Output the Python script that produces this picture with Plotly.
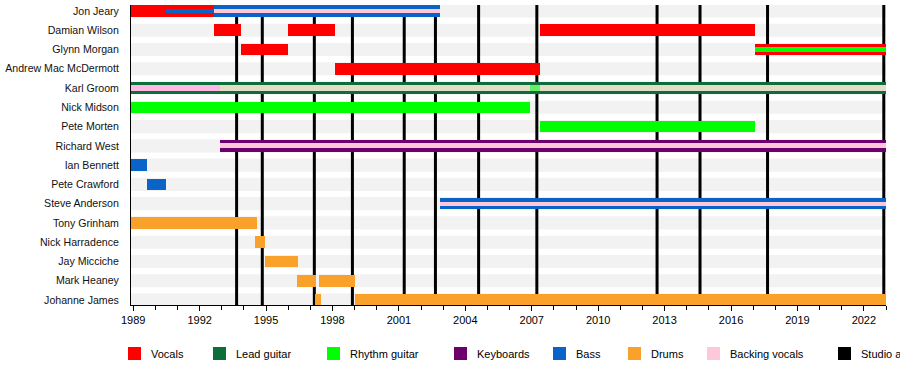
import plotly.graph_objects as go

# ---------------- data ----------------
members = ["Jon Jeary", "Damian Wilson", "Glynn Morgan", "Andrew Mac McDermott",
           "Karl Groom", "Nick Midson", "Pete Morten", "Richard West", "Ian Bennett",
           "Pete Crawford", "Steve Anderson", "Tony Grinham", "Nick Harradence",
           "Jay Micciche", "Mark Heaney", "Johanne James"]

timeline_start = 1988.9
timeline_end = 2023.0

vocals = [("Jon Jeary", 1988.9, 1992.65),
          ("Damian Wilson", 1992.65, 1993.85),
          ("Damian Wilson", 1996.0, 1998.12),
          ("Damian Wilson", 2007.38, 2017.1),
          ("Glynn Morgan", 1993.85, 1996.0),
          ("Glynn Morgan", 2017.1, 2023.0),
          ("Andrew Mac McDermott", 1998.12, 2007.38)]

lead_guitar = [("Karl Groom", 1988.9, 2023.0)]

rhythm_guitar = [("Nick Midson", 1988.9, 2006.9),
                 ("Pete Morten", 2007.38, 2017.1)]

keyboards = [("Richard West", 1992.93, 2023.0)]

bass = [("Jon Jeary", 1992.65, 2002.86),
        ("Ian Bennett", 1988.9, 1989.6),
        ("Pete Crawford", 1989.6, 1990.5),
        ("Steve Anderson", 2002.86, 2023.0)]

drums = [("Tony Grinham", 1988.9, 1994.58),
         ("Nick Harradence", 1994.5, 1994.95),
         ("Jay Micciche", 1994.95, 1996.43),
         ("Mark Heaney", 1996.38, 1997.26),
         ("Mark Heaney", 1997.4, 1999.0),
         ("Johanne James", 1997.2, 1997.5),
         ("Johanne James", 1999.0, 2023.0)]

# secondary roles (thin stripes)
bass_secondary = [("Jon Jeary", 1990.48, 1992.65)]
rhythm_secondary = [("Glynn Morgan", 2017.1, 2023.0),
                    ("Karl Groom", 2006.9, 2007.38)]
backing_vocals = [("Jon Jeary", 1992.65, 2002.86),
                  ("Karl Groom", 1988.9, 1992.93),
                  ("Richard West", 1992.93, 2023.0),
                  ("Steve Anderson", 2002.86, 2023.0)]
karl_stripe = [("Karl Groom", 1992.93, 2006.9),
               ("Karl Groom", 2007.38, 2023.0)]

studio_albums = [1993.67, 1994.83, 1997.18, 1998.9, 2001.24, 2002.65,
                 2004.6, 2007.23, 2012.66, 2014.6, 2017.65, 2022.9]

tick_years = list(range(1989, 2023, 3))
minor_years = list(range(1989, 2024))

legend_names = ["Vocals", "Lead guitar", "Rhythm guitar", "Keyboards", "Bass",
                "Drums", "Backing vocals", "Studio album"]

# ---------------- styles ----------------
C_VOC = "#FF0000"
C_LEAD = "#0B6E3B"
C_RHY = "#00FF00"
C_KEY = "#6E006E"
C_BASS = "#0A64C8"
C_DRUM = "#F9A12A"
C_BVOC = "#FFC8DA"
C_KARL_BV = "#FFB8E2"
C_KARL = "#E4DEC6"
C_ALB = "#000000"
legend_colors = [C_VOC, C_LEAD, C_RHY, C_KEY, C_BASS, C_DRUM, C_BVOC, C_ALB]
legend_px = [128, 213, 327, 454, 553, 628, 707, 838]

W, H = 900, 365
ML, MR, MT, MB = 131, 14, 5, 60
PW, PH = W - ML - MR, H - MT - MB
Y_RANGE = [15.26, -0.31]

idx = {m: i for i, m in enumerate(members)}
FONT = "Liberation Sans, Arial, sans-serif"

fig = go.Figure()


def add_bars(segs, color, width):
    fig.add_trace(go.Bar(
        orientation="h",
        y=[idx[m] for m, _, _ in segs],
        base=[s for _, s, _ in segs],
        x=[e - s for _, s, e in segs],
        width=width,
        marker=dict(color=color, line=dict(width=0)),
        showlegend=False, hoverinfo="skip"))


add_bars(vocals, C_VOC, 0.6)
add_bars(lead_guitar, C_LEAD, 0.64)
add_bars(rhythm_guitar, C_RHY, 0.6)
add_bars(keyboards, C_KEY, 0.6)
add_bars(bass, C_BASS, 0.6)
add_bars(drums, C_DRUM, 0.6)

add_bars(bass_secondary, C_BASS, 0.2)
add_bars([s for s in backing_vocals if s[0] == "Jon Jeary"], C_BVOC, 0.18)
add_bars([s for s in backing_vocals if s[0] == "Karl Groom"], C_KARL_BV, 0.32)
add_bars([s for s in backing_vocals if s[0] == "Richard West"], C_BVOC, 0.26)
add_bars([s for s in backing_vocals if s[0] == "Steve Anderson"], C_BVOC, 0.22)
add_bars(karl_stripe, C_KARL, 0.32)
add_bars([s for s in rhythm_secondary if s[0] == "Glynn Morgan"], C_RHY, 0.24)
add_bars([s for s in rhythm_secondary if s[0] == "Karl Groom"], "#66EE66", 0.32)

shapes = []
for i, m in enumerate(members):
    shapes.append(dict(type="rect", xref="x", yref="y",
                       x0=timeline_start, x1=timeline_end, y0=i - 0.34, y1=i + 0.34,
                       fillcolor="#F2F2F2", line=dict(width=0), layer="below"))
for yr in studio_albums:
    shapes.append(dict(type="line", xref="x", yref="y", x0=yr, x1=yr,
                       y0=Y_RANGE[0], y1=Y_RANGE[1],
                       line=dict(color=C_ALB, width=3), layer="below"))

annotations = []
for name, col, px in zip(legend_names, legend_colors, legend_px):
    x0 = (px - ML) / PW
    x1 = (px + 13 - ML) / PW
    shapes.append(dict(type="rect", xref="paper", yref="paper",
                       x0=x0, x1=x1, y0=(MT + PH - 360) / PH, y1=(MT + PH - 347) / PH,
                       fillcolor=col, line=dict(width=0)))
    annotations.append(dict(xref="paper", yref="paper", x=(px + 21 - ML) / PW,
                            y=(MT + PH - 353.5) / PH, text=name, showarrow=False,
                            xanchor="left", yanchor="middle",
                            font=dict(family=FONT, size=11, color="#000")))

fig.update_layout(
    width=W, height=H, autosize=False,
    margin=dict(l=ML, r=MR, t=MT, b=MB, pad=0),
    paper_bgcolor="white", plot_bgcolor="white",
    barmode="overlay", bargap=0,
    shapes=shapes, annotations=annotations,
    showlegend=False,
    font=dict(family=FONT, size=11, color="#000"),
)
fig.update_xaxes(range=[timeline_start, timeline_end], showgrid=False, zeroline=False,
                 automargin=False,
                 showline=True, linecolor="black", linewidth=1,
                 tickmode="array", tickvals=tick_years, ticktext=[str(y) for y in tick_years],
                 ticks="outside", ticklen=5, tickcolor="black", tickwidth=1,
                 tickfont=dict(family=FONT, size=11, color="#000"),
                 minor=dict(tickvals=minor_years, ticks="outside", ticklen=4,
                            tickcolor="black", tickwidth=1))
fig.update_yaxes(range=Y_RANGE, showgrid=False, zeroline=False, automargin=False,
                 showline=True, linecolor="black", linewidth=1,
                 tickmode="array", tickvals=list(range(len(members))), ticktext=members,
                 ticks="", ticklabelstandoff=9,
                 tickfont=dict(family=FONT, size=10.6, color="#111"))

fig.write_html("out.html", config={"displayModeBar": False},
               post_script="document.body.style.margin='0';")
